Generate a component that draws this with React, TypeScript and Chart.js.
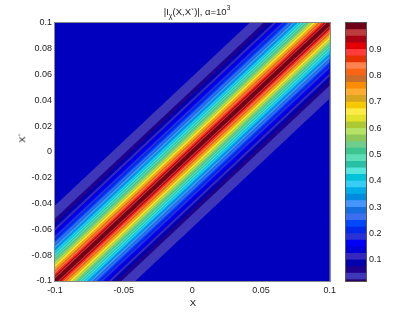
import React, { useEffect, useRef } from "react";
import { Chart, registerables } from "chart.js";

Chart.register(...registerables);

// ---------- data ----------
const X_MIN = -0.1;
const X_MAX = 0.1;
const xTickValues = [-0.1, -0.05, 0, 0.05, 0.1];
const xTickLabels = ["-0.1", "-0.05", "0", "0.05", "0.1"];
const yTickValues = [-0.1, -0.08, -0.06, -0.04, -0.02, 0, 0.02, 0.04, 0.06, 0.08, 0.1];
const yTickLabels = ["-0.1", "-0.08", "-0.06", "-0.04", "-0.02", "0", "0.02", "0.04", "0.06", "0.08", "0.1"];
const cbTickValues = [0.1, 0.2, 0.3, 0.4, 0.5, 0.6, 0.7, 0.8, 0.9];
const cbTickLabels = ["0.1", "0.2", "0.3", "0.4", "0.5", "0.6", "0.7", "0.8", "0.9"];
const CB_MIN = 0.02;
const CB_MAX = 1.0;

// contour levels of |I| and the distance |X - X'| at which each level is reached
const contourLevels = [
  0.025, 0.05, 0.075, 0.1, 0.125, 0.15, 0.175, 0.2, 0.225, 0.25,
  0.275, 0.3, 0.325, 0.35, 0.375, 0.4, 0.425, 0.45, 0.475, 0.5,
  0.525, 0.55, 0.575, 0.6, 0.625, 0.65, 0.675, 0.7, 0.725, 0.75,
  0.775, 0.8, 0.825, 0.85, 0.875, 0.9, 0.925, 0.95, 0.975,
];
const contourHalfWidths = [
  0.0585, 0.0484, 0.0444, 0.0412, 0.039, 0.0368, 0.035, 0.0332, 0.0314, 0.03,
  0.0285, 0.0271, 0.0256, 0.0242, 0.0231, 0.022, 0.0209, 0.0199, 0.0188, 0.0177,
  0.0166, 0.0155, 0.0144, 0.0134, 0.0126, 0.0119, 0.0112, 0.0105, 0.0097, 0.009,
  0.0083, 0.0076, 0.0069, 0.0061, 0.0054, 0.0047, 0.004, 0.0032, 0.0022,
];
// colour of each 0.025-wide value stripe, from 0 up to 1
const palette = [
  "rgb(45,0,105)", "rgb(62,56,185)", "rgb(30,0,140)", "rgb(0,0,172)", "rgb(52,40,192)",
  "rgb(0,0,215)", "rgb(0,0,245)", "rgb(40,50,215)", "rgb(0,40,232)", "rgb(0,72,250)",
  "rgb(60,110,240)", "rgb(20,110,222)", "rgb(70,150,255)", "rgb(0,140,222)", "rgb(0,172,232)",
  "rgb(55,205,245)", "rgb(0,195,215)", "rgb(85,230,222)", "rgb(40,192,165)", "rgb(92,222,182)",
  "rgb(60,196,145)", "rgb(110,206,140)", "rgb(140,200,90)", "rgb(180,226,100)", "rgb(172,200,50)",
  "rgb(226,226,40)", "rgb(255,235,70)", "rgb(245,200,0)", "rgb(215,165,30)", "rgb(255,172,50)",
  "rgb(250,140,0)", "rgb(205,110,40)", "rgb(250,100,20)", "rgb(255,130,80)", "rgb(230,50,0)",
  "rgb(255,60,60)", "rgb(228,0,0)", "rgb(170,0,20)", "rgb(188,60,62)", "rgb(112,0,24)",
];
const STRIPE = 0.025;
const BG = "rgb(0,0,190)";

const FONT = "'Liberation Sans', Arial, Helvetica, sans-serif";
const TXT = "#222";

// ---------- plugins ----------
const areaBg = {
  id: "areaBg",
  beforeDatasetsDraw(chart: any, _a: any, opts: any) {
    if (!opts || !opts.color) return;
    const { ctx, chartArea: a } = chart;
    ctx.save();
    ctx.fillStyle = opts.color;
    ctx.fillRect(a.left, a.top, a.right - a.left, a.bottom - a.top);
    ctx.restore();
  },
};
const frame = {
  id: "frame",
  afterDraw(chart: any, _a: any, opts: any) {
    if (!opts || !opts.color) return;
    const { ctx, chartArea: a } = chart;
    ctx.save();
    ctx.strokeStyle = opts.color;
    ctx.lineWidth = 1;
    ctx.strokeRect(Math.round(a.left) - 0.5, Math.round(a.top) - 0.5, Math.round(a.right - a.left) + 1, Math.round(a.bottom - a.top) + 1);
    ctx.restore();
  },
};

function MainPlot() {
  const ref = useRef<HTMLCanvasElement | null>(null);
  useEffect(() => {
    const datasets: any[] = [];
    // innermost level first (drawn on top)
    for (let k = contourLevels.length - 1; k >= 0; k--) {
      const w = contourHalfWidths[k];
      const colorIdx = Math.round(contourLevels[k] / STRIPE);
      datasets.push({
        label: "upper " + contourLevels[k],
        data: [
          { x: X_MIN, y: X_MIN + w },
          { x: X_MAX, y: X_MAX + w },
        ],
        borderWidth: 0,
        pointRadius: 0,
        fill: false,
      });
      datasets.push({
        label: "lower " + contourLevels[k],
        data: [
          { x: X_MIN, y: X_MIN - w },
          { x: X_MAX, y: X_MAX - w },
        ],
        borderWidth: 0,
        pointRadius: 0,
        backgroundColor: palette[colorIdx],
        fill: "-1",
      });
    }
    const chart = new Chart(ref.current as HTMLCanvasElement, {
      type: "line",
      data: { datasets },
      plugins: [areaBg, frame],
      options: {
        animation: false,
        responsive: false,
        devicePixelRatio: 1,
        layout: { padding: { top: 23, right: 8, left: 0, bottom: 0 } },
        plugins: {
          legend: { display: false },
          tooltip: { enabled: false },
          areaBg: { color: BG },
          frame: { color: "#8a8a8a" },
        } as any,
        scales: {
          x: {
            type: "linear",
            min: X_MIN,
            max: X_MAX,
            grid: { display: false, drawTicks: false },
            border: { display: false },
            afterBuildTicks: (s: any) => {
              s.ticks = xTickValues.map((v) => ({ value: v }));
            },
            afterFit: (s: any) => {
              s.height = 35;
            },
            ticks: {
              padding: 4,
              maxRotation: 0,
              autoSkip: false,
              color: TXT,
              font: { family: FONT, size: 9 },
              callback: (_v: any, i: number) => xTickLabels[i],
            },
          },
          y: {
            type: "linear",
            min: X_MIN,
            max: X_MAX,
            grid: { display: false, drawTicks: false },
            border: { display: false },
            afterBuildTicks: (s: any) => {
              s.ticks = yTickValues.map((v) => ({ value: v }));
            },
            afterFit: (s: any) => {
              s.width = 55;
            },
            ticks: {
              padding: 3,
              autoSkip: false,
              color: TXT,
              font: { family: FONT, size: 9 },
              callback: (_v: any, i: number) => yTickLabels[i],
            },
          },
        },
      } as any,
    });
    return () => chart.destroy();
  }, []);
  return (
    <canvas
      ref={ref}
      width={340}
      height={316}
      style={{ position: "absolute", left: 0, top: 0, width: 340, height: 316 }}
    />
  );
}

function ColorBar() {
  const ref = useRef<HTMLCanvasElement | null>(null);
  useEffect(() => {
    const datasets: any[] = [];
    // smallest stripe first so it is drawn on top
    for (let i = 0; i < palette.length; i++) {
      const hi = Math.min((i + 1) * STRIPE, CB_MAX);
      datasets.push({
        label: "stripe " + i,
        data: [[CB_MIN, hi]],
        backgroundColor: palette[i],
        borderWidth: 0,
        barPercentage: 1,
        categoryPercentage: 1,
        grouped: false,
      });
    }
    const chart = new Chart(ref.current as HTMLCanvasElement, {
      type: "bar",
      data: { labels: ["|I|"], datasets },
      plugins: [frame],
      options: {
        animation: false,
        responsive: false,
        devicePixelRatio: 1,
        layout: { padding: { top: 23, right: 0, left: 6, bottom: 35 } },
        plugins: {
          legend: { display: false },
          tooltip: { enabled: false },
          frame: { color: "#555" },
        } as any,
        scales: {
          x: { display: false },
          y: {
            position: "right",
            min: CB_MIN,
            max: CB_MAX,
            grid: {
              display: true,
              drawOnChartArea: false,
              drawTicks: true,
              tickLength: -3,
              color: "#333",
            },
            border: { display: false },
            afterBuildTicks: (s: any) => {
              s.ticks = cbTickValues.map((v) => ({ value: v }));
            },
            afterFit: (s: any) => {
              s.width = 54;
            },
            ticks: {
              padding: 6,
              autoSkip: false,
              color: TXT,
              font: { family: FONT, size: 9 },
              callback: (_v: any, i: number) => cbTickLabels[i],
            },
          },
        },
      } as any,
    });
    return () => chart.destroy();
  }, []);
  return (
    <canvas
      ref={ref}
      width={80}
      height={316}
      style={{ position: "absolute", left: 340, top: 0, width: 80, height: 316 }}
    />
  );
}

export default function App() {
  const txt: React.CSSProperties = {
    position: "absolute",
    fontFamily: FONT,
    color: TXT,
    whiteSpace: "nowrap",
    lineHeight: 1,
  };
  return (
    <div
      style={{
        position: "fixed",
        left: 0,
        top: 0,
        width: 420,
        height: 316,
        background: "#fff",
        overflow: "hidden",
      }}
    >
      <MainPlot />
      <ColorBar />
      <div style={{ ...txt, left: 197, top: 5, fontSize: 9.5, transform: "translateX(-50%)" }}>
        |I<sub style={{ fontSize: 7, verticalAlign: -3 }}>χ</sub>(X,X`)|, α=10
        <sup style={{ fontSize: 6.5, verticalAlign: 5 }}>3</sup>
      </div>
      <div style={{ ...txt, left: 193, top: 298, fontSize: 9.5, transform: "translateX(-50%)" }}>X</div>
      <div
        style={{
          ...txt,
          left: 22,
          top: 138,
          fontSize: 9.5,
          transform: "translate(-50%, -50%) rotate(-90deg)",
        }}
      >
        X`
      </div>
    </div>
  );
}
